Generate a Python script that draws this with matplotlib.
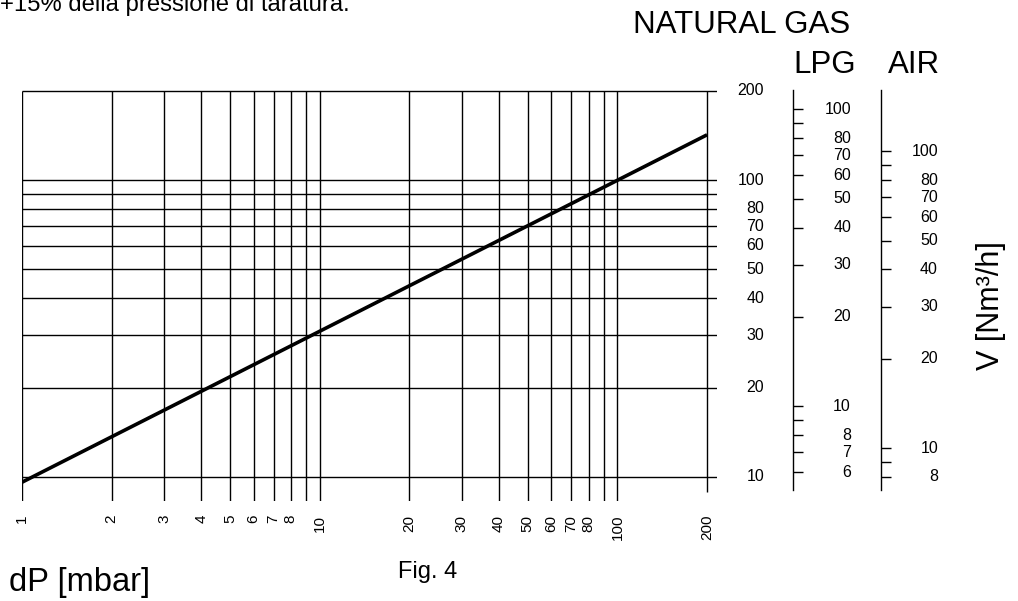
import matplotlib
matplotlib.use("Agg")
import matplotlib.pyplot as plt
from matplotlib.ticker import NullLocator

plt.rcParams['font.family'] = ['Liberation Sans', 'DejaVu Sans']

# grid / scale values
dp_grid = [1, 2, 3, 4, 5, 6, 7, 8, 9, 10, 20, 30, 40, 50, 60, 70, 80, 90, 100, 200]
dp_labels = [1, 2, 3, 4, 5, 6, 7, 8, 10, 20, 30, 40, 50, 60, 70, 80, 100, 200]
ng_grid = [10, 20, 30, 40, 50, 60, 70, 80, 90, 100, 200]
ng_labels = [10, 20, 30, 40, 50, 60, 70, 80, 100, 200]
lpg_ticks = [6, 7, 8, 9, 10, 20, 30, 40, 50, 60, 70, 80, 90, 100]
lpg_labels = [6, 7, 8, 10, 20, 30, 40, 50, 60, 70, 80, 100]
air_ticks = [8, 9, 10, 20, 30, 40, 50, 60, 70, 80, 90, 100]
air_labels = [8, 10, 20, 30, 40, 50, 60, 70, 80, 100]

# flow curve (natural gas)
curve_dp = [1, 200]
curve_ng = [9.6, 142]

# conversion natural gas -> other gases
LPG_F = 0.578
AIR_F = 0.80

W, H = 1018, 601
fig = plt.figure(figsize=(W / 100, H / 100), dpi=100)


def px_box(l, t, r, b):
    return [l / W, 1 - b / H, (r - l) / W, (b - t) / H]


ylo, yhi = 8.3, 201
ax = fig.add_axes(px_box(22, 90, 717, 501))
ax.set_xscale('log')
ax.set_yscale('log')
ax.set_xlim(1, 216)
ax.set_ylim(ylo, yhi)
ax.axis('off')

ax.vlines(dp_grid[:-1], ylo, 200, color='black', lw=1.0)
ax.vlines(dp_grid[-1], 8.9, 200, color='black', lw=1.0)
ax.hlines(ng_grid, 1, 216, color='black', lw=1.0)
ax.plot(curve_dp, curve_ng, color='black', lw=2.6, solid_capstyle='butt')

for v in dp_labels:
    ax.text(v, 7.45, str(v), rotation=90, ha='center', va='top', fontsize=11)
for v in ng_labels:
    ax.text(311, v, str(v), ha='right', va='center', fontsize=11.5)


def side_scale(x_px, factor, ticks, labels, label_right_px):
    a = fig.add_axes(px_box(x_px, 90, x_px + 10, 501))
    a.set_yscale('log')
    a.set_ylim(ylo * factor, yhi * factor)
    a.patch.set_visible(False)
    for s in ['top', 'right', 'bottom']:
        a.spines[s].set_visible(False)
    a.spines['left'].set_bounds(9.04 * factor, yhi * factor)
    a.spines['left'].set_linewidth(1.0)
    a.set_xticks([])
    a.set_yticks(ticks)
    a.yaxis.set_minor_locator(NullLocator())
    a.tick_params(axis='y', direction='in', length=7.2, width=1.0, labelleft=False)
    tr = a.get_yaxis_transform()
    for v in labels:
        a.text((label_right_px - x_px) / 10, v, str(v), transform=tr,
               ha='right', va='center', fontsize=11.5)
    return a


side_scale(793, LPG_F, lpg_ticks, lpg_labels, 851)
side_scale(881, AIR_F, air_ticks, air_labels, 938)

fig.text(742 / W, 1 - 33 / H, 'NATURAL GAS', ha='center', va='baseline', fontsize=22.5)
fig.text(793 / W, 1 - 73 / H, 'LPG', ha='left', va='baseline', fontsize=22.5)
fig.text(888 / W, 1 - 73 / H, 'AIR', ha='left', va='baseline', fontsize=22.5)
fig.text(991 / W, 1 - 306 / H, 'V [Nm³/h]', rotation=90, ha='center', va='center', fontsize=22)
fig.text(9 / W, 1 - 591 / H, 'dP [mbar]', ha='left', va='baseline', fontsize=23.5)
fig.text(398 / W, 1 - 578 / H, 'Fig. 4', ha='left', va='baseline', fontsize=17)
fig.text(0 / W, 1 - 11 / H, '+15% della pressione di taratura.', ha='left', va='baseline', fontsize=17.2)

fig.savefig('out.png', dpi=100)
